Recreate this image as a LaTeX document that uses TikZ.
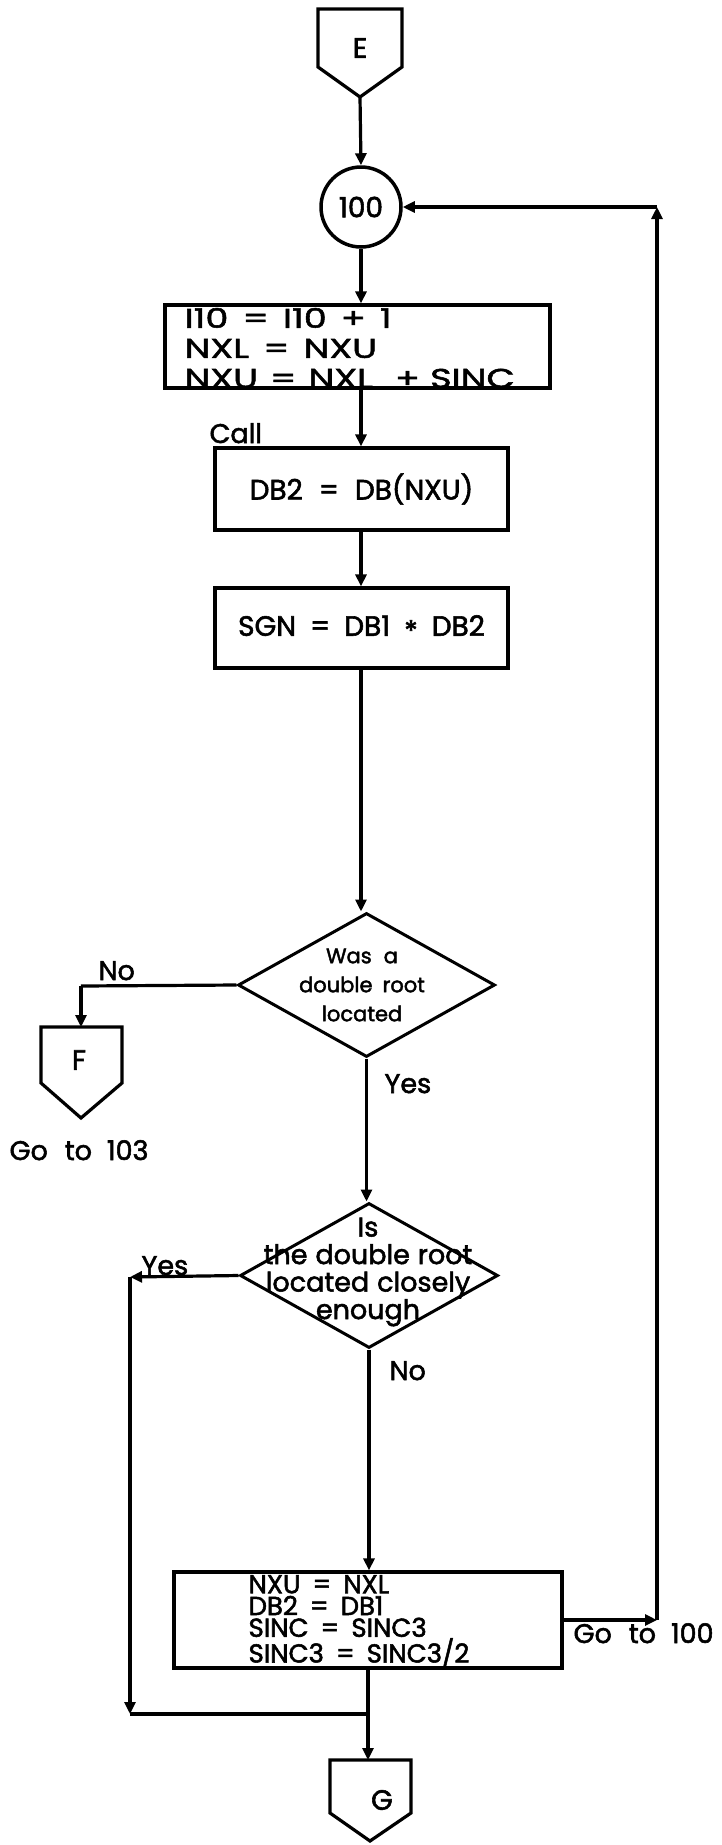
\documentclass[tikz,border=0pt]{standalone}
\usepackage{fontspec}
\setmainfont{Poppins}[FakeBold=2]
\newfontfamily\widefont{Poppins}[FakeBold=2,FakeStretch=1.36]
\newcommand\mygap[1]{\hspace{#1pt}}
\usetikzlibrary{arrows.meta,shapes.geometric}
\begin{document}
\begin{tikzpicture}[x=1pt,y=-1pt,line width=3.2pt,line join=miter,
  box/.style={draw,rectangle,inner sep=0pt,line width=3.2pt},
  dia/.style={draw,diamond,inner sep=0pt,line width=3pt},
  arr/.style={-{Triangle[length=12pt,width=11pt]},line width=3.2pt},
  lbl/.style={inner sep=0pt,font=\fontsize{27}{30}\selectfont},
  btxt/.style={inner sep=0pt,font=\fontsize{28}{30}\selectfont},
  dtxt/.style={inner sep=0pt,align=center,font=\fontsize{21}{29}\selectfont}]
\useasboundingbox (0,0) rectangle (721,1845);

% off-page connector E
\draw (318,9) -- (402,9) -- (402,67) -- (360,97) -- (318,67) -- cycle;
\node[btxt] (Et) at (360,48) {E};
\coordinate (Etip) at (360,97);

% connector 100
\node[draw,circle,minimum size=80pt,inner sep=0pt,line width=3.5pt,btxt] (c100) at (361,207) {100};
\draw[arr] (Etip) -- (c100.north);

% box 1
\node[box,minimum width=385pt,minimum height=83pt] (b1) at (357.5,346.5) {};
\node[anchor=west,align=left,inner sep=0pt,font=\widefont\fontsize{27}{30}\selectfont] (b1t) at (183,348)
  {I10\mygap{14}=\mygap{14}I10\mygap{14}+\mygap{14}1\\NXL\mygap{14}=\mygap{14}NXU\\NXU\mygap{12}=\mygap{12}NXL\mygap{22}+\mygap{10}SINC};
\draw[arr] (c100.south) -- (c100.south |- b1.north);

% box 2
\node[lbl,anchor=base west] (call) at (208,443) {Call};
\node[box,minimum width=293pt,minimum height=82pt,btxt] (b2) at (361.5,489) {DB2\mygap{16}=\mygap{16}DB(NXU)};
\draw[arr] (c100.south |- b1.south) -- (c100.south |- b2.north);

% box 3
\node[box,minimum width=293pt,minimum height=80pt,btxt] (b3) at (361.5,628) {SGN\mygap{14}=\mygap{14}DB1\mygap{14}\raisebox{-5pt}{*}\mygap{14}DB2};
\draw[arr] (c100.south |- b2.south) -- (c100.south |- b3.north);

% decision 1
\node[dia,minimum width=257pt,minimum height=144pt] (d1) at (366.5,985) {};
\node[dtxt] (d1t) at (362,985) {Was\mygap{12}a\\double\mygap{10}root\\located};
\draw[arr] (c100.south |- b3.south) -- (c100.south |- d1.north);

% No branch to F
\coordinate (nc) at (81,986);
\draw (d1.west) -- (nc);
\draw (41,1027) -- (122,1027) -- (122,1083) -- (81,1118) -- (41,1083) -- cycle;
\coordinate (Ftop) at (81,1027);
\draw[arr] (nc) -- (Ftop);
\node[btxt] (Ft) at (79,1060) {F};
\node[lbl,anchor=base west] (no1) at (97,980) {No};
\node[lbl,anchor=base west] (go103) at (8,1160) {Go\mygap{17}to\mygap{15}103};
\node[lbl,anchor=base west] (yes1) at (383,1093) {Yes};

% decision 2
\node[dia,minimum width=258pt,minimum height=145pt] (d2) at (369,1275.5) {};
\node[dtxt,font=\fontsize{27}{27.5}\selectfont] (d2t) at (368,1272) {Is\\the\mygap{8}double\mygap{8}root\\located\mygap{8}closely\\enough};
\draw[arr] (d1.south) -- (d1.south |- d2.north);
\node[lbl,anchor=base west] (yes2) at (140,1275) {Yes};
\node[lbl,anchor=base west] (no2) at (388,1380) {No};

% box 4
\node[box,minimum width=388pt,minimum height=96pt] (b4) at (368,1620) {};
\node[inner sep=0pt,anchor=west,align=left,font=\fontsize{26}{21.8}\selectfont] (b4t) at (247,1621)
  {NXU\mygap{12}=\mygap{12}NXL\\DB2\mygap{12}=\mygap{12}DB1\\SINC\mygap{12}=\mygap{12}SINC3\\SINC3\mygap{12}=\mygap{12}SINC3/2};
\draw[arr] (d2.south) -- (d2.south |- b4.north);

% Yes loop on the left
\coordinate (ly) at (130,1277);
\coordinate (lb) at (130,1714);
\draw[arr] (d2.west) -- (ly);
\draw[arr] (ly) -- (lb);
\draw (lb) -- (lb -| b4.south);

% off-page connector G
\draw (330,1760) -- (411,1760) -- (411,1813) -- (370,1841) -- (330,1813) -- cycle;
\coordinate (Gtop) at (368,1760);
\node[btxt] (Gt) at (382,1800) {G};
\draw[arr] (b4.south) -- (Gtop);

% Go to 100 loop
\coordinate (r1) at (657,1620);
\coordinate (r2) at (657,207);
\draw[arr] (b4.east) -- (r1);
\draw[arr] (r1) -- (r2);
\draw[arr] (r2) -- (c100.east);
\node[lbl,anchor=base west] (go100) at (572,1643) {Go\mygap{17}to\mygap{15}100};
\end{tikzpicture}
\end{document}
